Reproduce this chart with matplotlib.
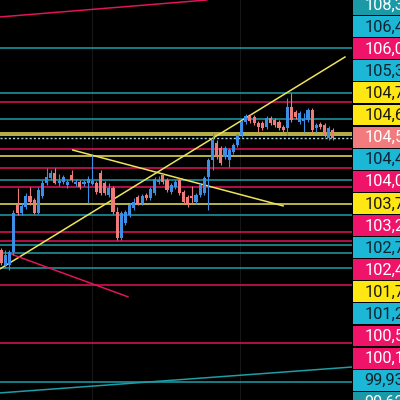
import numpy as np
import matplotlib
matplotlib.use("Agg")
import matplotlib.pyplot as plt

# candles (one per bar, oldest first)
opens = [99.73, 99.09, 99.09, 99.65, 101.64, 101.30, 101.55, 102.02, 101.85, 101.30,
         102.02, 102.57, 102.79, 103.00, 102.57, 102.62, 102.49, 102.91, 102.53, 102.62,
         102.53, 102.57, 102.53, 102.57, 103.00, 102.57, 102.06, 102.36, 101.34, 100.24,
         100.88, 101.22, 101.51, 101.98, 101.72, 102.06, 101.94, 102.15, 102.62, 102.91,
         102.70, 102.19, 102.40, 102.70, 102.19, 101.98, 102.02, 101.77, 102.06, 102.15,
         102.83, 103.55, 104.27, 104.06, 103.68, 103.55, 103.89, 104.19, 104.61, 105.16,
         105.42, 105.37, 105.12, 105.12, 104.95, 105.33, 105.25, 105.16, 104.95, 104.91,
         105.80, 105.59, 105.16, 105.20, 105.25, 105.67, 104.91, 105.08, 105.04, 104.48,
         104.82]
closes = [99.18, 99.52, 99.65, 101.30, 101.30, 101.60, 102.02, 101.77, 101.30, 102.28,
          102.57, 102.83, 103.00, 102.57, 102.66, 102.83, 102.62, 102.70, 102.62, 102.40,
          102.62, 102.74, 102.66, 102.19, 102.15, 102.15, 102.36, 101.34, 100.24, 101.30,
          101.34, 101.64, 101.77, 101.72, 102.02, 101.94, 102.32, 102.74, 102.70, 102.62,
          102.28, 102.49, 102.62, 102.15, 101.77, 101.72, 101.94, 102.06, 102.49, 102.79,
          103.55, 104.40, 103.68, 103.42, 104.06, 103.97, 104.19, 104.61, 105.16, 105.42,
          105.20, 105.12, 104.95, 104.91, 105.33, 105.12, 105.04, 104.91, 104.82, 105.80,
          105.25, 105.37, 105.54, 105.29, 105.67, 104.82, 105.04, 104.95, 104.61, 104.91,
          104.48]
highs = [99.82, 99.73, 99.73, 101.43, 102.36, 101.72, 102.15, 102.40, 101.94, 102.40,
         102.70, 103.21, 103.13, 103.21, 102.96, 102.91, 102.70, 103.13, 102.74, 102.70,
         102.70, 102.87, 103.76, 102.66, 103.13, 102.66, 102.57, 102.45, 101.55, 101.39,
         101.43, 101.72, 101.94, 102.06, 102.11, 102.15, 102.40, 102.83, 102.87, 103.00,
         102.79, 102.57, 102.70, 102.79, 102.28, 102.06, 102.45, 102.15, 102.57, 102.87,
         103.63, 104.70, 104.40, 104.14, 104.14, 104.06, 104.27, 104.70, 105.25, 105.50,
         105.50, 105.46, 105.20, 105.20, 105.42, 105.42, 105.33, 105.25, 105.04, 106.18,
         106.39, 105.67, 105.63, 105.54, 105.76, 105.76, 105.12, 105.16, 105.12, 104.99,
         104.91]
lows = [99.09, 98.97, 98.88, 99.52, 101.22, 101.22, 101.47, 101.64, 101.26, 101.26,
        101.94, 102.49, 102.70, 102.53, 102.45, 102.53, 102.36, 102.62, 102.45, 102.32,
        102.45, 101.72, 102.49, 102.11, 102.06, 102.06, 101.98, 101.26, 100.15, 100.15,
        100.79, 101.13, 101.43, 101.64, 101.64, 101.85, 101.85, 102.06, 102.53, 102.53,
        102.19, 102.11, 102.32, 102.06, 101.68, 101.55, 101.72, 101.68, 101.98, 102.06,
        101.43, 103.13, 103.59, 103.34, 103.59, 103.25, 103.80, 104.10, 104.53, 105.08,
        105.12, 105.04, 104.74, 104.82, 104.87, 105.04, 104.95, 104.82, 104.65, 104.61,
        105.16, 105.29, 105.08, 104.74, 105.16, 104.74, 104.74, 104.87, 104.53, 104.40,
        104.40]

# horizontal levels
level_prices = [108.30, 106.40, 106.00, 105.30, 104.70, 104.60, 104.00, 103.70, 103.20,
                102.70, 102.40, 101.70, 101.20, 100.50, 100.10, 99.93, 99.62, 98.95,
                98.24, 95.78, 94.13]
level_kinds = ["teal", "teal", "pink", "teal", "yellow", "yellow", "pink", "yellow", "pink",
               "teal", "pink", "yellow", "teal", "pink", "pink", "teal", "teal", "teal",
               "pink", "pink", "teal"]
last_price = 104.47

# trend lines: (bar start, price start, bar end, price end)
trend_lines = [
    (-0.3, 109.62, 49.6, 110.34, "pink"),
    (-0.3, 98.92, 82.9, 107.92, "yellow"),
    (17.3, 103.97, 68.0, 101.60, "yellow"),
    (1.7, 99.60, 30.6, 97.74, "pink"),
    (-0.3, 93.66, 84.6, 94.76, "teal"),
]

# price tags on the right axis (top to bottom)
tag_texts = ["108,35", "106,40", "106,05", "105,30", "104,75", "104,65", "104,53", "104,45",
             "104,05", "103,75", "103,25", "102,75", "102,45", "101,75", "101,25", "100,55",
             "100,15", "99,930", "99,620"]
tag_kinds = ["dteal", "cyan", "pink", "cyan", "yellow", "yellow", "salmon", "cyan", "pink",
             "yellow", "pink", "cyan", "pink", "yellow", "cyan", "pink", "pink", "cyan", "dteal"]

line_colors = {"teal": "#1c9ea6", "pink": "#e0145c", "yellow": "#ece45a"}
tag_colors = {"dteal": "#1a9aa6", "cyan": "#1cb6d6", "pink": "#f0136a",
              "yellow": "#ffe713", "salmon": "#f27b7d"}
tag_text = {"dteal": "white", "cyan": "#0c2430", "pink": "white",
            "yellow": "#1a1a10", "salmon": "white"}

fig = plt.figure(figsize=(4, 4), dpi=100, facecolor="black")
ax = fig.add_axes([0, 0, 0.88, 1])
ax.set_facecolor("black")
ax.set_xlim(-0.24, 84.6)
ax.set_ylim(93.36, 110.34)
ax.axis("off")

# faint grid
for gx in [21.9, 57.6]:
    ax.axvline(gx, color="#161616", lw=0.8, zorder=0)

for p, k in zip(level_prices, level_kinds):
    ax.axhline(p, color=line_colors[k], lw=1.1, zorder=1)
ax.axhline(last_price, color="#a8d8d8", lw=1.0, ls=(0, (1.5, 1.5)), zorder=1)

for x0, y0, x1, y1, k in trend_lines:
    ax.plot([x0, x1], [y0, y1], color=line_colors[k], lw=1.1, zorder=2)

o = np.array(opens)
c = np.array(closes)
idx = np.arange(len(o))
cols = np.where(c >= o, "#3d8fe6", "#f0797a")
ax.vlines(idx, lows, highs, colors=cols, lw=0.8, zorder=3)
body = np.maximum(np.abs(c - o), 0.04)
ax.bar(idx, body, bottom=np.minimum(o, c), width=0.75, color=cols, zorder=4)

# price tag column
tax = fig.add_axes([0.88, 0, 0.12, 1])
tax.set_xlim(0, 48)
tax.set_ylim(400, 0)
tax.axis("off")
tax.set_facecolor("black")
step = 22.1
for i, (t, k) in enumerate(zip(tag_texts, tag_kinds)):
    yc = 4.5 + i * step
    tax.add_patch(plt.Rectangle((1, yc - step / 2 + 0.6), 47, step - 1.2,
                                color=tag_colors[k], lw=0))
    tax.text(12.5, yc + 0.5, t, color=tag_text[k], fontsize=11.8, family="Roboto",
             va="center", ha="left", clip_on=False)

fig.savefig("out.png", dpi=100, facecolor="black")
